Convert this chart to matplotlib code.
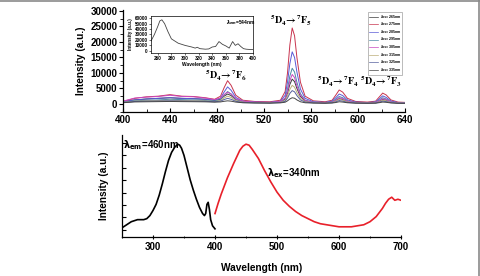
import matplotlib
matplotlib.use("Agg")
import matplotlib.pyplot as plt
from matplotlib.lines import Line2D
from matplotlib.ticker import MultipleLocator
from matplotlib.font_manager import FontProperties

plt.rcParams['font.family'] = ['Liberation Sans', 'DejaVu Sans']
plt.rcParams['font.weight'] = 'bold'

# ---------------- data: top panel emission spectra ----------------
wl_em = [400, 410, 420, 430, 440, 450, 460, 470, 478, 483, 486, 489, 492, 496, 502, 512, 525, 534,
         538, 540, 542, 544, 546, 548, 551, 555, 562, 572, 578, 581, 584, 587, 591, 598, 608, 615,
         618, 621, 624, 628, 634, 640]
ex_labels = ['265', '275', '285', '295', '305', '315', '325', '335']
ex_colors = ['#3a3a3a', '#c8344e', '#5a5ad6', '#4a8aa6', '#c848c0', '#bcae78', '#56609e', '#454545']
em_265 = [700, 1300, 1600, 1800, 2000, 1800, 1700, 1500, 1100, 1500, 2500, 3200, 2700, 1400, 700, 500, 450, 700,
          1500, 3500, 6300, 8000, 7200, 5000, 2400, 1000, 500, 400, 600, 1100, 1700, 1400, 800, 450, 350, 450,
          900, 1400, 1200, 600, 350, 300]
em_275 = [800, 1800, 2300, 2500, 3000, 2500, 2400, 2000, 1500, 2500, 5200, 7500, 6000, 2800, 1200, 800, 700, 1200,
          4000, 10000, 19000, 24500, 22000, 15000, 7000, 2500, 1000, 700, 1200, 2800, 4500, 3800, 1800, 800, 600, 900,
          2200, 3500, 2900, 1300, 600, 500]
em_285 = [700, 1300, 1600, 1800, 2000, 1800, 1700, 1500, 1200, 1900, 3800, 5500, 4400, 2100, 900, 600, 500, 900,
          2800, 7000, 13000, 16800, 15000, 10300, 4800, 1800, 700, 500, 900, 2000, 3200, 2700, 1300, 600, 450, 650,
          1600, 2600, 2100, 950, 450, 400]
em_295 = [600, 1000, 1200, 1300, 1500, 1400, 1300, 1100, 900, 1400, 2800, 4000, 3200, 1500, 700, 500, 400, 700,
          1900, 4800, 9000, 11500, 10300, 7000, 3300, 1200, 500, 400, 700, 1500, 2400, 2000, 1000, 500, 350, 500,
          1200, 2000, 1600, 700, 350, 300]
em_305 = [900, 1900, 2200, 2400, 2800, 2400, 2300, 1900, 1400, 1900, 3000, 3800, 3200, 1700, 900, 600, 500, 800,
          1800, 4000, 7500, 9500, 8500, 5800, 2800, 1100, 500, 400, 600, 1200, 2000, 1700, 900, 450, 350, 500,
          1000, 1700, 1400, 650, 350, 300]
em_315 = [500, 900, 1000, 1100, 1200, 1100, 1050, 950, 800, 1100, 1900, 2500, 2100, 1100, 550, 400, 350, 550,
          1100, 2600, 4700, 6000, 5400, 3700, 1800, 750, 400, 300, 450, 900, 1500, 1250, 650, 350, 280, 350,
          700, 1200, 1000, 500, 280, 250]
em_325 = [450, 800, 900, 950, 1000, 950, 900, 850, 700, 900, 1400, 1800, 1500, 850, 450, 350, 300, 450,
          850, 1900, 3400, 4300, 3900, 2700, 1300, 600, 350, 280, 380, 650, 1100, 900, 500, 300, 250, 300,
          550, 900, 750, 400, 250, 220]
em_335 = [400, 650, 700, 750, 800, 750, 720, 680, 580, 650, 850, 1000, 900, 600, 380, 300, 260, 350,
          550, 1000, 1600, 2000, 1850, 1300, 700, 380, 280, 240, 300, 450, 700, 600, 380, 250, 220, 250,
          400, 600, 520, 320, 220, 200]
em_series = [em_265, em_275, em_285, em_295, em_305, em_315, em_325, em_335]

# ---------------- data: inset excitation (lambda_em = 544 nm) ----------------
wl_in = [250, 255, 260, 263, 266, 270, 275, 280, 285, 290, 300, 310, 315, 318, 322, 330, 335, 340, 345,
         350, 355, 360, 365, 370, 374, 378, 382, 386, 390, 395, 400]
in_vals = [18000, 30000, 45000, 55000, 57000, 50000, 35000, 22000, 18000, 14000, 10000, 7000, 5000, 6500,
           4000, 3000, 3500, 7000, 8000, 17000, 12000, 9000, 5000, 17000, 10000, 13000, 8000, 4000, 3000,
           2500, 2500]

# ---------------- data: bottom panel ----------------
wl_exc = [250, 255, 260, 265, 270, 275, 280, 285, 290, 295, 300, 305, 310, 315, 320, 325, 330, 335, 340,
          343, 346, 350, 355, 360, 365, 370, 375, 380, 383, 385, 387, 389, 391, 393, 396, 400]
exc_vals = [9, 11, 13, 15, 16, 17, 17, 17, 18, 21, 26, 32, 41, 52, 64, 75, 83, 88, 91,
            90, 87, 80, 68, 56, 46, 37, 29, 23, 21, 23, 32, 34, 27, 17, 11, 8]
wl_emis = [400, 405, 410, 420, 430, 440, 445, 450, 455, 460, 470, 480, 490, 500, 510, 520, 530, 540, 550,
           560, 570, 580, 590, 600, 610, 620, 630, 640, 650, 660, 665, 670, 675, 680, 685, 690, 695, 700]
emis_vals = [23, 33, 42, 58, 72, 85, 89, 91, 90, 86, 77, 65, 54, 44, 36, 30, 25, 21, 18,
             15, 13, 12, 11, 10, 10, 10, 11, 12, 15, 20, 24, 28, 33, 37, 39, 36, 37, 36]

W, H = 480, 276
fig = plt.figure(figsize=(W / 100, H / 100), dpi=100)

def fx(px):
    return px / W

def fy(py):
    return 1 - py / H

# ---------------- top panel ----------------
ax1 = fig.add_axes([fx(123), fy(112), fx(405) - fx(123), fy(10) - fy(112)])
for vals, col in zip(em_series, ex_colors):
    ax1.plot(wl_em, vals, color=col, lw=0.7)
ax1.set_xlim(400, 640)
ax1.set_ylim(-2600, 30300)
ax1.spines['top'].set_visible(False)
ax1.spines['right'].set_visible(False)
ax1.xaxis.set_major_locator(MultipleLocator(40))
ax1.xaxis.set_minor_locator(MultipleLocator(20))
ax1.yaxis.set_major_locator(MultipleLocator(5000))
ax1.yaxis.set_minor_locator(MultipleLocator(2500))
ax1.tick_params(axis='x', direction='in', labelsize=7, length=3, width=0.8, pad=2)
ax1.tick_params(axis='x', which='minor', direction='in', length=2, width=0.6)
ax1.tick_params(axis='y', direction='out', labelsize=7, length=3, width=0.8, pad=1)
ax1.tick_params(axis='y', which='minor', direction='out', length=2, width=0.6)
for s in ax1.spines.values():
    s.set_linewidth(0.9)
ax1.set_ylabel('Intensity (a.u.)', fontsize=7.3, fontweight='bold', labelpad=3)
for lab in ax1.get_xticklabels() + ax1.get_yticklabels():
    lab.set_fontweight('bold')

trans_kw = dict(fontsize=7.2, math_fontfamily='stix', ha='center', va='center', color='black')
fig.text(fx(291), fy(21), r'$\mathbf{^5D_4\!\rightarrow\!^7F_5}$', **trans_kw)
fig.text(fx(226), fy(76), r'$\mathbf{^5D_4\!\rightarrow\!^7F_6}$', **trans_kw)
fig.text(fx(338), fy(82), r'$\mathbf{^5D_4\!\rightarrow\!^7F_4}$', **trans_kw)
fig.text(fx(381), fy(82), r'$\mathbf{^5D_4\!\rightarrow\!^7F_3}$', **trans_kw)

handles = [Line2D([0], [0], color=c, lw=0.5) for c in ex_colors]
labels = [r'$\lambda_{ex}$=' + l + 'nm' for l in ex_labels]
leg = fig.legend(handles, labels, loc='upper left', bbox_to_anchor=(fx(368), fy(12)),
                 prop=FontProperties(family='Liberation Sans', size=2.6), frameon=True,
                 fancybox=False, edgecolor='#888888', handlelength=2.6, handletextpad=0.3,
                 labelspacing=0.0, borderpad=0.3, borderaxespad=0)
leg.get_frame().set_linewidth(0.5)

# ---------------- inset ----------------
axi = fig.add_axes([fx(151), fy(53), fx(253) - fx(151), fy(16) - fy(53)])
axi.plot(wl_in, in_vals, color='#444444', lw=0.6)
axi.set_xlim(250, 400)
axi.set_ylim(-4000, 64000)
axi.xaxis.set_major_locator(MultipleLocator(20))
axi.yaxis.set_major_locator(MultipleLocator(10000))
axi.tick_params(labelsize=3.3, length=1.2, width=0.4, pad=1)
for s in axi.spines.values():
    s.set_linewidth(0.5)
axi.set_xlabel('Wavelength (nm)', fontsize=3.5, fontweight='bold', labelpad=1)
axi.set_ylabel('Intensity (a.u.)', fontsize=3.3, fontweight='bold', labelpad=1)
for lab in axi.get_xticklabels() + axi.get_yticklabels():
    lab.set_fontweight('bold')
axi.text(360, 52000, r'$\lambda_{em}$=544nm', fontsize=3.5, ha='left', va='center')

# ---------------- bottom panel ----------------
ax2 = fig.add_axes([fx(122), fy(237), fx(401) - fx(122), fy(135) - fy(237)])
ax2.plot(wl_exc, exc_vals, color='black', lw=1.2)
ax2.plot(wl_emis, emis_vals, color='#e8202a', lw=1.2)
ax2.set_xlim(250, 700)
ax2.set_ylim(0, 100)
ax2.spines['top'].set_visible(False)
ax2.spines['right'].set_visible(False)
for s in ax2.spines.values():
    s.set_linewidth(0.9)
ax2.xaxis.set_major_locator(MultipleLocator(100))
ax2.xaxis.set_minor_locator(MultipleLocator(50))
ax2.set_yticks([7 + 12.2 * k for k in range(8)])
ax2.set_yticklabels([])
ax2.tick_params(axis='y', direction='in', length=3, width=0.8)
ax2.tick_params(axis='x', direction='inout', labelsize=7, length=3, width=0.8, pad=2)
ax2.tick_params(axis='x', which='minor', direction='inout', length=2, width=0.6)
for lab in ax2.get_xticklabels():
    lab.set_fontweight('bold')
ax2.set_ylabel('Intensity (a.u.)', fontsize=7.3, fontweight='bold', labelpad=6)
ax2.set_xlabel('Wavelength (nm)', fontsize=7.3, fontweight='bold', labelpad=8)

ax2.text(251, 90, r'$\mathbf{\lambda_{em}}$=460nm', fontsize=7, fontweight='bold',
         ha='left', va='center', math_fontfamily='dejavusans')
ax2.text(484, 63, r'$\mathbf{\lambda_{ex}}$=340nm', fontsize=7, fontweight='bold',
         ha='left', va='center', math_fontfamily='dejavusans')

# frame border of the figure (top and right edges)
fig.add_artist(Line2D([0, 1], [0.997, 0.997], transform=fig.transFigure, color='#8a8a8a', lw=1.2))
fig.add_artist(Line2D([0.997, 0.997], [0, 1], transform=fig.transFigure, color='#8a8a8a', lw=1.2))

fig.savefig('out.png', dpi=100)
